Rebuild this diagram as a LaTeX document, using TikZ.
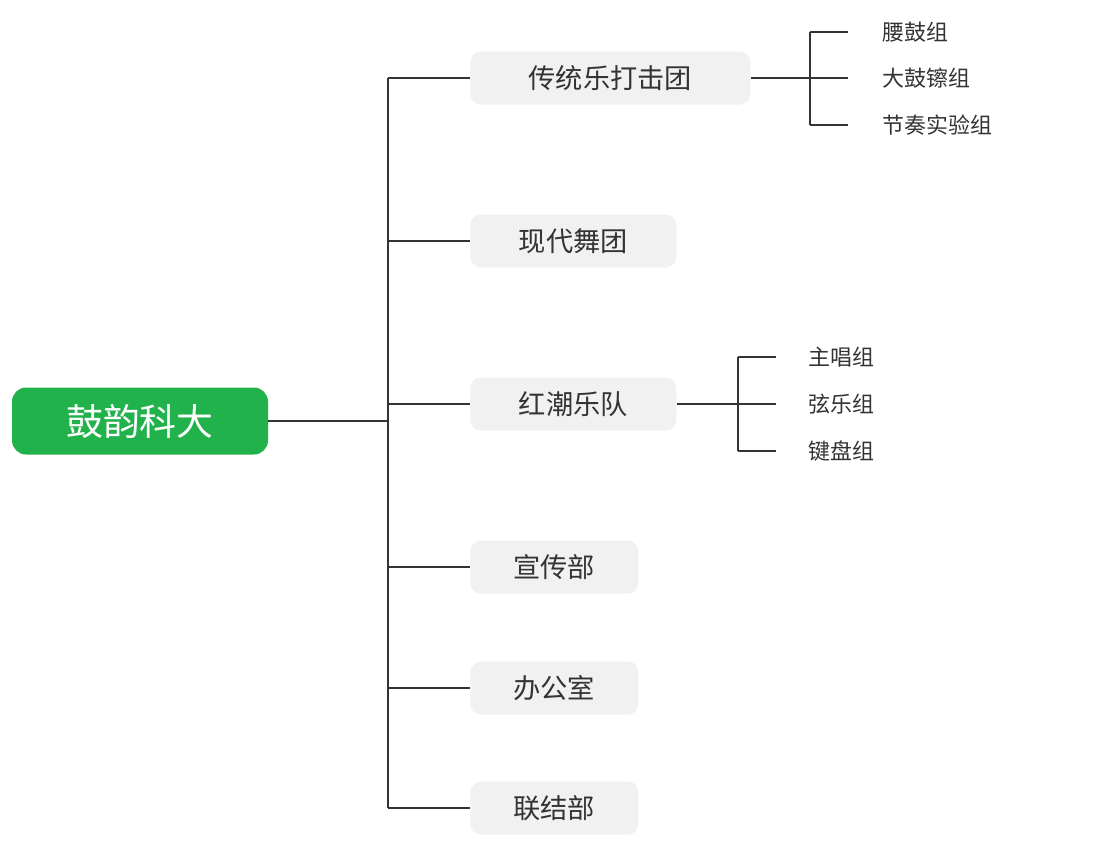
\documentclass[tikz,border=0pt]{standalone}
\usepackage{fontspec}
\newfontfamily\cjk{Noto Sans CJK SC}
\definecolor{rootg}{HTML}{22B24C}
\definecolor{boxg}{HTML}{F1F1F1}
\definecolor{ln}{HTML}{333333}
\begin{document}
\begin{tikzpicture}[x=0.02cm,y=-0.02cm,
  root/.style={fill=rootg,rounded corners=8pt,text=white,font=\cjk\fontsize{21}{24}\selectfont,minimum width=256*0.02cm,minimum height=67*0.02cm,inner sep=0},
  box/.style={fill=boxg,rounded corners=6pt,text=ln,font=\cjk\fontsize{15.5}{18}\selectfont,minimum height=53*0.02cm,anchor=west,inner sep=0},
  leaf/.style={text=ln,font=\cjk\fontsize{12.5}{15}\selectfont,anchor=west,inner sep=0},
  conn/.style={draw=ln,line width=1.4pt}]
\useasboundingbox (0,0) rectangle (1106,843);
\node[root] (r) at (140,421) {鼓韵科大};
\node[box,minimum width=280*0.02cm] (b1) at (470,78) {传统乐打击团};
\node[box,minimum width=206*0.02cm] (b2) at (470,241) {现代舞团};
\node[box,minimum width=206*0.02cm] (b3) at (470,404) {红潮乐队};
\node[box,minimum width=168*0.02cm] (b4) at (470,567) {宣传部};
\node[box,minimum width=168*0.02cm] (b5) at (470,688) {办公室};
\node[box,minimum width=168*0.02cm] (b6) at (470,808) {联结部};
\coordinate (t0) at (388,421);
\coordinate (ttop) at (388,78);
\coordinate (tbot) at (388,808);
\draw[conn] (r.east) -- (t0);
\draw[conn] (ttop) -- (tbot);
\foreach \b in {b1,b2,b3,b4,b5,b6} \draw[conn] (388,0 |- \b.west) -- (\b.west);
% sub 1
\node[leaf] (l1) at (882,32) {腰鼓组};
\node[leaf] (l2) at (882,78) {大鼓镲组};
\node[leaf] (l3) at (882,125) {节奏实验组};
\coordinate (s1) at (810,78);
\draw[conn] (b1.east) -- (s1);
\draw[conn] (810,32) -- (810,125);
\foreach \y in {32,78,125} \draw[conn] (810,\y) -- (848,\y);
% sub 2
\node[leaf] (m1) at (808,357) {主唱组};
\node[leaf] (m2) at (808,404) {弦乐组};
\node[leaf] (m3) at (808,451) {键盘组};
\coordinate (s2) at (738,404);
\draw[conn] (b3.east) -- (s2);
\draw[conn] (738,357) -- (738,451);
\foreach \y in {357,404,451} \draw[conn] (738,\y) -- (776,\y);
\end{tikzpicture}
\end{document}
